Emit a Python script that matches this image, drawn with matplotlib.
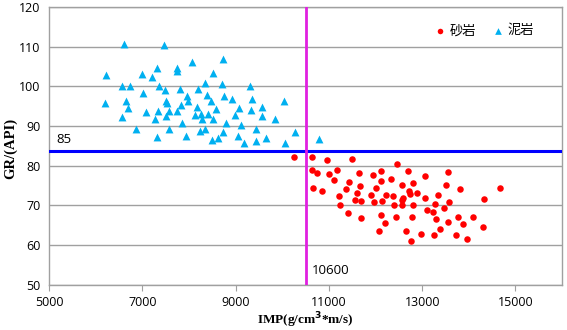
import matplotlib.pyplot as plt

# 砂岩 (sandstone) points
sand_imp = [10250, 10636, 10958, 11493, 12451, 10630, 10752, 11009, 11180, 11637,
            11943, 12115, 12687, 13066, 13559, 11101, 11423, 12123, 12338, 12565,
            12794, 13501, 13801, 14665, 10666, 10844, 11358, 11673, 11609, 12001,
            11215, 11894, 12215, 12365, 12586, 12723, 12730, 12895, 13051, 13336,
            11566, 11680, 11958, 12145, 12565, 12573, 12387, 12801, 13281, 13572,
            14331, 11230, 13473, 13101, 13223, 11401, 12115, 12436, 12773, 13302,
            13765, 14087, 13544, 11686, 12194, 13872, 14309, 12072, 12644, 13380,
            12972, 13251, 13731, 13958, 12766]
sand_gr = [82.3, 82.3, 81.4, 81.7, 80.4, 78.9, 78.1, 78.0, 78.9, 78.2,
           77.7, 78.7, 78.7, 77.3, 78.3, 76.3, 75.8, 76.1, 76.6, 75.1,
           75.6, 75.2, 74.1, 74.5, 74.4, 73.7, 74.1, 74.9, 73.2, 74.4,
           72.4, 72.5, 72.7, 72.3, 71.9, 73.7, 72.8, 73.2, 71.9, 72.5,
           71.4, 71.1, 70.8, 71.2, 71.4, 70.2, 70.1, 70.0, 70.4, 70.8,
           71.7, 70.2, 69.4, 68.8, 68.3, 68.1, 67.5, 67.1, 67.1, 66.6,
           67.2, 67.1, 65.9, 66.8, 65.5, 65.3, 64.6, 63.6, 63.6, 64.1,
           62.7, 62.5, 62.5, 61.5, 61.0]

# 泥岩 (mudstone) points
mud_imp = [6215, 6200, 6607, 7458, 6573, 6729, 6659, 6702, 6558, 6858,
           7002, 7023, 7087, 7201, 7314, 7357, 7329, 7280, 7323, 7494,
           7501, 7529, 7501, 7580, 7572, 7743, 7752, 7801, 7837, 7743,
           7844, 7936, 7966, 7987, 8065, 8193, 8172, 8137, 8266, 8279,
           8230, 8337, 8337, 8386, 8416, 8480, 8515, 8572, 8515, 8502,
           8615, 8716, 8737, 8759, 8793, 8737, 8922, 8986, 9080, 9108,
           9059, 9179, 9316, 9344, 9337, 9444, 9436, 9573, 9565, 9659,
           9837, 10036, 10051, 10280, 10780]
mud_gr = [102.8, 95.7, 110.6, 110.4, 100.1, 100.1, 96.4, 94.6, 92.2, 89.3,
          103.2, 98.2, 93.5, 102.4, 104.6, 100.1, 93.9, 91.8, 87.3, 99.0,
          96.4, 95.9, 92.6, 93.8, 89.3, 104.6, 103.9, 99.3, 95.3, 93.8,
          90.7, 87.5, 97.6, 96.4, 106.1, 99.3, 94.9, 92.7, 93.1, 91.8,
          88.7, 89.2, 100.9, 97.7, 93.0, 96.3, 103.3, 94.3, 91.8, 86.6,
          87.1, 100.5, 106.8, 97.6, 90.7, 88.4, 96.8, 92.8, 94.5, 90.3,
          87.4, 85.8, 100.1, 96.9, 94.0, 89.2, 86.2, 94.9, 92.4, 87.1,
          91.8, 96.2, 85.6, 88.6, 86.7]

gr_cut = 83.6
imp_cut = 10520

fig = plt.figure(figsize=(5.67, 3.30), dpi=100)
ax = fig.add_axes([0.0864, 0.137, 0.905, 0.842])

ax.set_xlim(5000, 16000)
ax.set_ylim(50, 120)
ax.set_xticks(range(5000, 16000, 2000))
ax.set_yticks(range(50, 121, 10))
ax.yaxis.grid(True, color='#a0a0a0', linewidth=1.0)
ax.set_axisbelow(True)
for s in ax.spines.values():
    s.set_color('#a0a0a0')
    s.set_linewidth(1.0)
ax.tick_params(axis='x', length=4, color='#a0a0a0', labelsize=9, pad=4)
ax.tick_params(axis='y', length=0, labelsize=9, pad=6)
for lab in ax.get_xticklabels() + ax.get_yticklabels():
    lab.set_family('Open Sans')

ax.scatter(sand_imp, sand_gr, s=22, color='#ff0000', marker='o', linewidths=0,
           label='砂岩', zorder=3)
ax.scatter(mud_imp, mud_gr, s=32, color='#00b0f0', marker='^', linewidths=0,
           label='泥岩', zorder=3)

ax.axhline(gr_cut, color='#0000ff', linewidth=2.2, zorder=4)
ax.axvline(imp_cut, color='#e020e0', linewidth=2.0, zorder=4)

ax.text(5150, gr_cut + 1.4, '85', fontsize=9.5, family='Open Sans', va='bottom', ha='left')
ax.text(imp_cut + 120, 53.6, '10600', fontsize=9.5, family='Open Sans', va='center', ha='left')

ax.set_xlabel('IMP(g/cm$^{\\mathbf{3}}$*m/s)', fontsize=9.5, fontweight='bold',
              family='Liberation Serif', va='center')
ax.xaxis.set_label_coords(0.5, -0.128)
ax.set_ylabel('GR/(API)', fontsize=10.5, fontweight='bold', family='Liberation Serif',
              va='center')
ax.yaxis.set_label_coords(-0.075, 0.489)

leg = ax.legend(loc='center right', bbox_to_anchor=(0.945, 0.914), ncol=2, frameon=False,
                borderaxespad=0, borderpad=0, handlelength=0.8,
                handletextpad=0.3, columnspacing=1.3, markerscale=0.85,
                prop={'family': ['Noto Sans CJK SC', 'DejaVu Sans'], 'size': 9.5})

fig.savefig('out.png', dpi=100)
